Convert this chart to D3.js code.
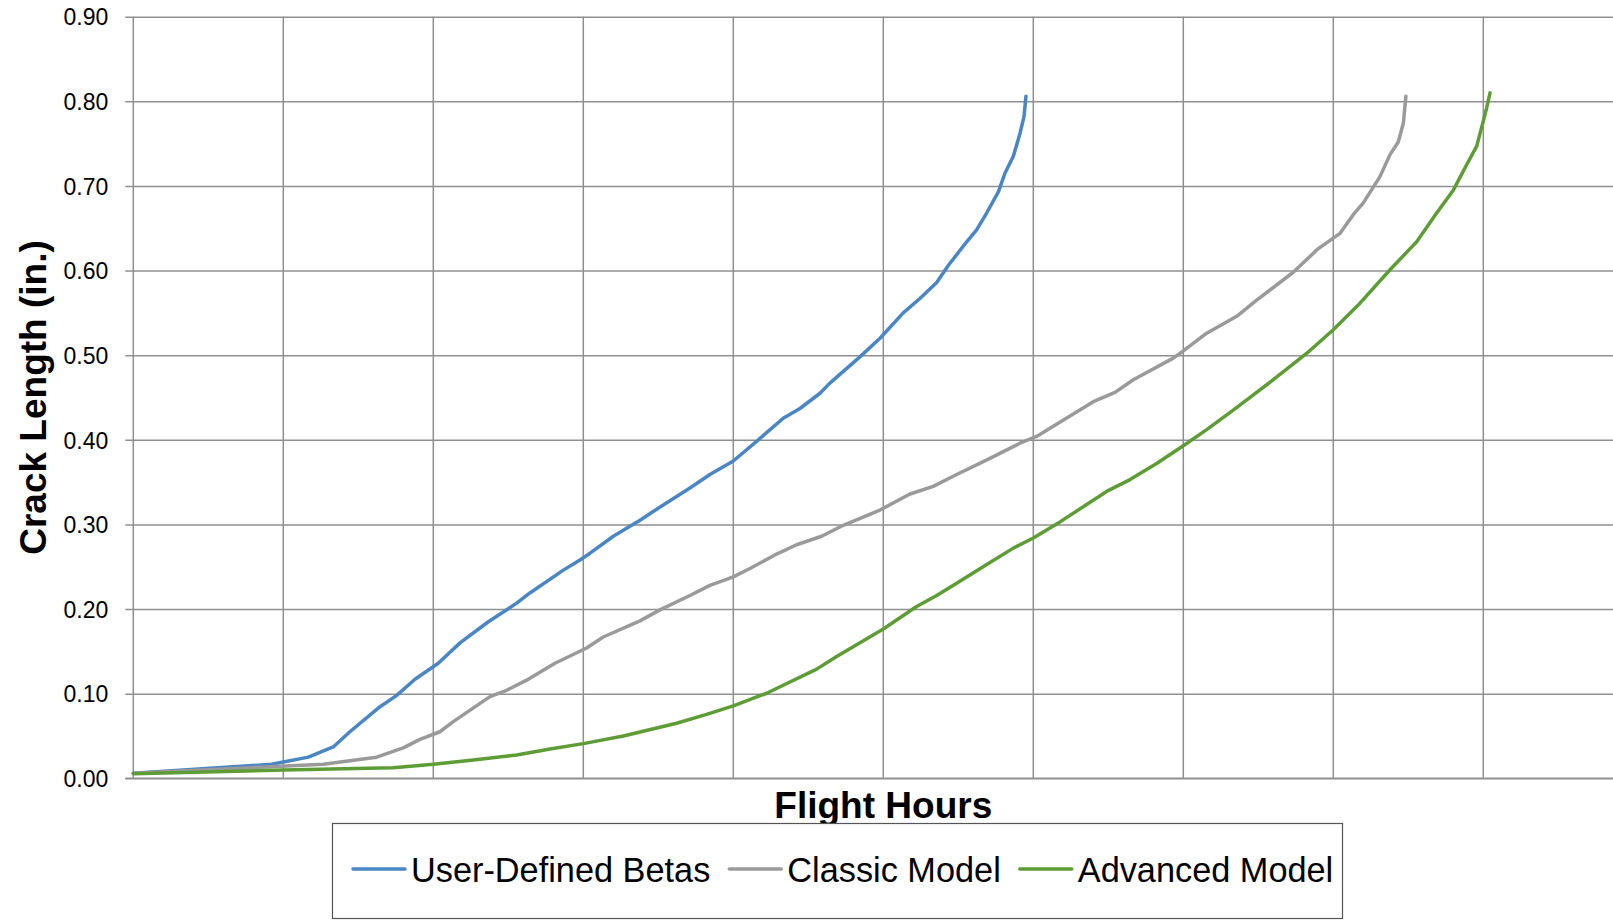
<!DOCTYPE html>
<html>
<head>
<meta charset="utf-8">
<script src="https://cdn.jsdelivr.net/npm/d3@7"></script>
<style>
  html, body { margin: 0; padding: 0; background: #fff; }
  svg { display: block; }
  text { font-family: "Liberation Sans", Arial, sans-serif; fill: #000; }
</style>
</head>
<body>
<svg id="chart" width="1613" height="920"></svg>
<script>
// ---- data ----
const seriesNames = ["User-Defined Betas", "Classic Model", "Advanced Model"];
const yTicks = [0, 0.1, 0.2, 0.3, 0.4, 0.5, 0.6, 0.7, 0.8, 0.9];
const xGrid = [0, 1000, 2000, 3000, 4000, 5000, 6000, 7000, 8000, 9000, 10000];

const betasHours = [0, 922, 1167, 1333, 1444, 1633, 1756, 1878, 2033, 2178, 2367, 2556, 2644, 2867, 2978, 3045, 3200, 3378, 3489, 3711, 3844, 4000, 4167, 4333, 4444, 4578, 4644, 4844, 4978, 5133, 5244, 5356, 5433, 5556, 5622, 5689, 5767, 5811, 5867, 5911, 5938, 5951];
const betasCrack = [0.006, 0.0165, 0.025, 0.037, 0.055, 0.083, 0.098, 0.117, 0.136, 0.160, 0.185, 0.207, 0.219, 0.246, 0.258, 0.266, 0.286, 0.305, 0.318, 0.343, 0.359, 0.375, 0.400, 0.4255, 0.437, 0.455, 0.467, 0.498, 0.520, 0.550, 0.567, 0.586, 0.606, 0.634, 0.648, 0.668, 0.693, 0.715, 0.735, 0.762, 0.782, 0.806];

const classicHours = [0, 1267, 1622, 1800, 1911, 2044, 2133, 2378, 2489, 2622, 2811, 3022, 3133, 3378, 3511, 3711, 3844, 4000, 4111, 4289, 4422, 4589, 4733, 4978, 5178, 5333, 5489, 5711, 5911, 6022, 6133, 6400, 6545, 6667, 6933, 7000, 7156, 7356, 7489, 7733, 7900, 8045, 8133, 8200, 8311, 8378, 8433, 8467, 8484];
const classicCrack = [0.006, 0.0165, 0.025, 0.036, 0.046, 0.055, 0.067, 0.0965, 0.104, 0.116, 0.136, 0.154, 0.167, 0.186, 0.199, 0.216, 0.228, 0.238, 0.248, 0.265, 0.276, 0.286, 0.299, 0.317, 0.336, 0.345, 0.359, 0.378, 0.396, 0.404, 0.416, 0.445, 0.456, 0.471, 0.4965, 0.505, 0.526, 0.546, 0.565, 0.598, 0.626, 0.644, 0.666, 0.680, 0.711, 0.737, 0.752, 0.774, 0.806];

const advancedHours = [0, 1000, 1733, 2000, 2267, 2556, 2778, 3000, 3267, 3622, 3822, 4000, 4222, 4556, 4689, 5000, 5222, 5356, 5489, 5711, 5867, 6000, 6178, 6489, 6645, 6822, 7000, 7156, 7333, 7600, 7822, 8000, 8178, 8378, 8556, 8689, 8800, 8889, 8956, 8996, 9022, 9045];
const advancedCrack = [0.0055, 0.0098, 0.0126, 0.0165, 0.0216, 0.0275, 0.0346, 0.041, 0.050, 0.065, 0.0756, 0.0855, 0.1005, 0.129, 0.144, 0.1765, 0.203, 0.216, 0.2305, 0.255, 0.272, 0.284, 0.303, 0.339, 0.353, 0.372, 0.393, 0.412, 0.435, 0.471, 0.502, 0.530, 0.5615, 0.601, 0.634, 0.668, 0.695, 0.725, 0.747, 0.774, 0.792, 0.810];

const seriesColors = ["#4A86C4", "#9A9A9A", "#5E9C36"];

// ---- build ----
const series = [
  betasHours.map((h, i) => ({h, c: betasCrack[i]})),
  classicHours.map((h, i) => ({h, c: classicCrack[i]})),
  advancedHours.map((h, i) => ({h, c: advancedCrack[i]}))
];

const svg = d3.select("#chart");
const plotLeft = 133.3, plotTop = 16.7, plotBottom = 778.3, plotRight = 1633.3;

const x = d3.scaleLinear().domain([0, 10000]).range([plotLeft, plotRight]);
const y = d3.scaleLinear().domain([0, 0.9]).range([plotBottom, plotTop]);

const gridColor = "#8f8f8f";

// horizontal gridlines + y ticks via axis
const yAxis = d3.axisLeft(y).tickValues(yTicks).tickFormat(d3.format(".2f"))
  .tickSize(-(1613 - plotLeft)).tickSizeOuter(0).tickPadding(0);
const gy = svg.append("g").attr("transform", `translate(${plotLeft},0)`).call(yAxis);
gy.select(".domain").remove();
gy.selectAll(".tick line").attr("stroke", gridColor).attr("stroke-width", 1.5)
  .attr("x1", -8);
gy.selectAll(".tick text")
  .attr("x", -25).attr("dy", "0.36em")
  .style("font-size", "23px").style("font-family", "'Liberation Sans', Arial, sans-serif")
  .attr("fill", "#000");

// vertical gridlines
svg.append("g").selectAll("line").data(xGrid).join("line")
  .attr("x1", d => x(d)).attr("x2", d => x(d))
  .attr("y1", plotTop).attr("y2", plotBottom)
  .attr("stroke", gridColor).attr("stroke-width", 1.5);

// bottom axis line
svg.append("line").attr("x1", plotLeft - 8).attr("x2", 1613).attr("y1", plotBottom).attr("y2", plotBottom)
  .attr("stroke", gridColor).attr("stroke-width", 1.5);

// lines
const line = d3.line().x(d => x(d.h)).y(d => y(d.c)).curve(d3.curveLinear);
svg.append("g").selectAll("path").data(series).join("path")
  .attr("d", line)
  .attr("fill", "none")
  .attr("stroke", (d, i) => seriesColors[i])
  .attr("stroke-width", 3.5)
  .attr("stroke-linejoin", "round")
  .attr("stroke-linecap", "round");

// axis titles
svg.append("text")
  .attr("x", (plotLeft + plotRight) / 2).attr("y", 818)
  .attr("text-anchor", "middle")
  .style("font-size", "37px").style("font-weight", "bold")
  .text("Flight Hours");

svg.append("text")
  .attr("transform", `translate(46,${(plotTop + plotBottom) / 2}) rotate(-90)`)
  .attr("text-anchor", "middle")
  .style("font-size", "37px").style("font-weight", "bold")
  .text("Crack Length (in.)");

// legend
svg.append("rect")
  .attr("x", 332.5).attr("y", 823.5).attr("width", 1010).attr("height", 95)
  .attr("fill", "#fff").attr("stroke", "#555").attr("stroke-width", 1.2);

let lx = 353;
const lyLine = 869, lyText = 882;
seriesNames.forEach((name, i) => {
  svg.append("line")
    .attr("x1", lx).attr("x2", lx + 52).attr("y1", lyLine).attr("y2", lyLine)
    .attr("stroke", seriesColors[i]).attr("stroke-width", 3.5).attr("stroke-linecap", "round");
  const t = svg.append("text")
    .attr("x", lx + 58).attr("y", lyText)
    .style("font-size", "34.3px")
    .text(name);
  const w = t.node().getComputedTextLength();
  lx = lx + 58 + w + 19;
});
</script>
</body>
</html>
